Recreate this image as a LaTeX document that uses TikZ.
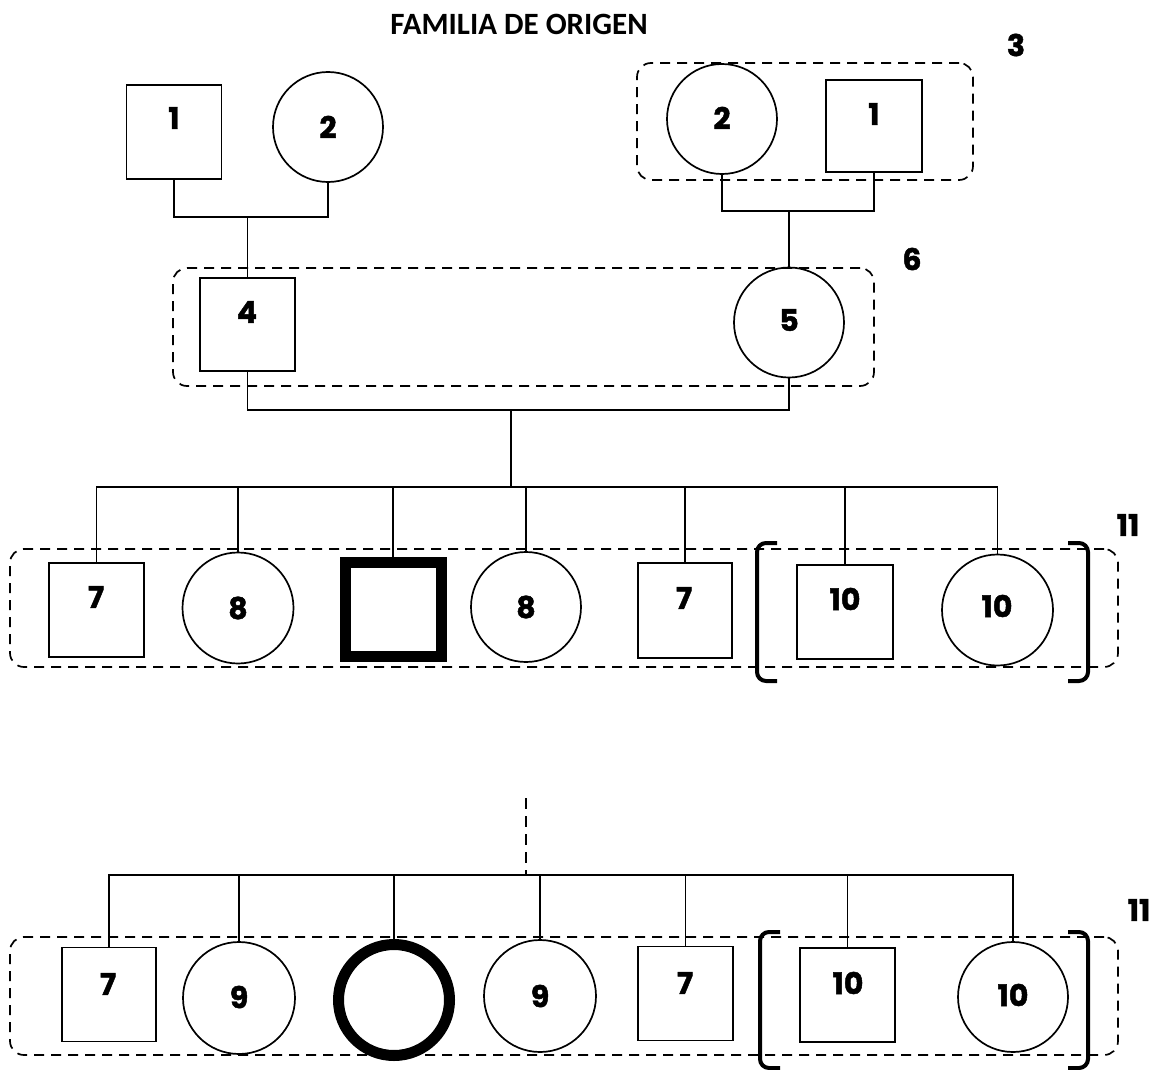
\documentclass[tikz,border=0pt]{standalone}
\usepackage{fontspec}
\setmainfont{Carlito}
\newfontfamily\numfont{Poppins}[BoldFeatures={FakeBold=1.5}]
\begin{document}
\begin{tikzpicture}[x=1pt,y=-1pt,
  person/.style={draw, line width=1.7pt, inner sep=0pt},
  sq/.style={person, rectangle, minimum width=95pt, minimum height=94pt},
  ci/.style={person, circle, minimum size=110pt},
  boldsq/.style={draw, rectangle, line width=11pt, minimum width=96pt, minimum height=94pt, inner sep=0pt},
  boldci/.style={draw, circle, line width=11pt, minimum size=111pt, inner sep=0pt},
  num/.style={font=\numfont\bfseries\fontsize{30}{30}\selectfont, inner sep=0pt},
  grp/.style={draw, rectangle, dash pattern=on 10pt off 7pt, line width=1.7pt, rounded corners=14pt, inner sep=0pt},
  link/.style={line width=1.7pt},
  brk/.style={line width=4pt, rounded corners=9pt}]
\useasboundingbox (0,0) rectangle (1156,1070);

% title
\node[font=\bfseries\fontsize{31}{31}\selectfont, inner sep=0pt] (title) at (519,24) {FAMILIA DE ORIGEN};

% grandparents, left
\node[sq] (gpa) at (174,132) {};
\node[num] (gpaT) at (174,118) {1};
\node[ci] (gma) at (328,127) {};
\node[num] (gmaT) at (328,127) {2};

% grandparents, right
\node[grp, minimum width=336pt, minimum height=117pt] (g3) at (805,121.5) {};
\node[num] (g3T) at (1016,45) {3};
\node[ci] (gmb) at (722,119) {};
\node[num] (gmbT) at (722,118) {2};
\node[sq, minimum width=96pt, minimum height=92pt] (gpb) at (874,126) {};
\node[num] (gpbT) at (874,114) {1};

% parents
\node[grp, minimum width=701pt, minimum height=118pt] (g6) at (523.5,327) {};
\node[num] (g6T) at (912,259) {6};
\node[sq, minimum height=93pt] (fa) at (247.5,324.5) {};
\node[num] (faT) at (247,312) {4};
\node[ci] (mo) at (789,322.5) {};
\node[num] (moT) at (789,320) {5};

\coordinate (j1) at (247.5,217);
\coordinate (j2) at (789,211);
\coordinate (j3) at (511,410);
\coordinate (b1) at (511,487);

\draw[link] (gpa.south) |- (j1) -| (gma.south);
\draw[link] (j1) -- (fa.north);
\draw[link] (gmb.south) |- (j2) -| (gpb.south);
\draw[link] (j2) -- (mo.north);
\draw[link] (fa.south) |- (j3) -| (mo.south);
\draw[link] (j3) -- (b1);

% siblings, first row
\node[grp, minimum width=1108pt, minimum height=118pt] (g11a) at (564,608) {};
\node[num] (g11aT) at (1128,525) {11};
\node[sq] (k1) at (96.5,610) {};
\node[num] (k1T) at (96,597) {7};
\node[ci, minimum size=111pt] (k2) at (238,608) {};
\node[num] (k2T) at (238,608) {8};
\node[boldsq] (k3) at (393,609.5) {};
\node[ci] (k4) at (526,607) {};
\node[num] (k4T) at (526,607) {8};
\node[sq, minimum width=94pt, minimum height=95pt] (k5) at (685,610.5) {};
\node[num] (k5T) at (684,598) {7};
\node[sq, minimum width=96pt] (k6) at (845,612) {};
\node[num] (k6T) at (845,599) {10};
\node[ci, minimum size=111pt] (k7) at (997.5,610) {};
\node[num] (k7T) at (997,606) {10};

\foreach \k in {k1,k2,k3,k4,k5,k6,k7}
  \draw[link] (\k.north) |- (b1);

\draw[brk] (777,543) -- (757,543) -- (757,681) -- (777,681);
\draw[brk] (1068,543) -- (1088,543) -- (1088,681) -- (1068,681);

% siblings, second row
\coordinate (t2) at (526,798);
\coordinate (b2) at (526,875);
\draw[link, dash pattern=on 11pt off 7pt] (t2) -- (b2);

\node[grp, minimum width=1108pt, minimum height=118pt] (g11b) at (564,996) {};
\node[num] (g11bT) at (1139,910) {11};
\node[sq, minimum width=94pt] (m1) at (109,994.5) {};
\node[num] (m1T) at (108,984) {7};
\node[ci, minimum size=112pt] (m2) at (239,998) {};
\node[num] (m2T) at (239,997) {9};
\node[boldci] (m3) at (394,1000) {};
\node[ci, minimum size=112pt] (m4) at (540,996) {};
\node[num] (m4T) at (540,996) {9};
\node[sq] (m5) at (685.5,993.5) {};
\node[num] (m5T) at (685,983) {7};
\node[sq] (m6) at (847.5,995) {};
\node[num] (m6T) at (848,983) {10};
\node[ci] (m7) at (1013,997) {};
\node[num] (m7T) at (1013,995) {10};

\foreach \m in {m1,m2,m3,m4,m5,m6,m7}
  \draw[link] (\m.north) |- (b2);

\draw[brk] (780,932) -- (760,932) -- (760,1068) -- (780,1068);
\draw[brk] (1068,932) -- (1088,932) -- (1088,1068) -- (1068,1068);
\end{tikzpicture}
\end{document}
